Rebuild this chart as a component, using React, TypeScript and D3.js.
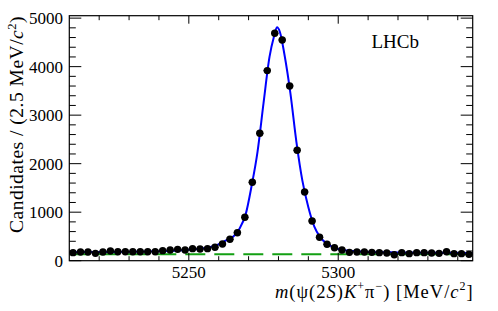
import * as d3 from 'd3'

// bin centres (2.5 MeV bins from 5210 to 5345) and candidates per bin
const binLow = 5210
const binWidth = 2.5
const counts = [
  166, 179, 179, 152, 179, 200, 186, 186, 186, 186,
  186, 186, 207, 220, 234, 220, 248, 241, 248, 276,
  344, 441, 577, 895, 1616, 2627, 3918, 4689, 4550, 3602,
  2276, 1416, 818, 482, 338, 268, 220, 172, 179, 179,
  172, 166, 159, 124, 166, 145, 166, 166, 159, 152,
  186, 145, 145, 131,
]

// total fit (blue), [mass, value]
const fitCurve: [number, number][] = [
  [5210, 176], [5220, 179], [5230, 185], [5240, 196], [5245, 206],
  [5250, 225], [5255, 258], [5258, 296], [5261, 365], [5263, 440],
  [5265, 505], [5267, 665], [5269, 950], [5271, 1540], [5273, 2250],
  [5275, 3250], [5277, 4200], [5278.5, 4620], [5279.5, 4810], [5280.5, 4710],
  [5282, 4250], [5284, 3450], [5286, 2450], [5288, 1650], [5290, 1100],
  [5292, 700], [5294, 480], [5296, 360], [5298, 290], [5300, 240],
  [5305, 198], [5310, 180], [5320, 170], [5345, 160],
]

// combinatorial background (green dashed)
const bkgLevel = 132

const xMajor = [5250, 5300]
const xMinor = d3.range(5220, 5345, 10)
const yMajor = [0, 1000, 2000, 3000, 4000, 5000]
const yMinor = d3.range(0, 5050, 200)

const W = 498
const H = 311
const L = 69.3
const R = 472.7
const T = 15.7
const B = 260.7
const font = "'Liberation Serif', 'Times New Roman', 'DejaVu Serif', serif"

export default function App() {
  const x = d3.scaleLinear([5210, 5345], [L, R])
  const y = d3.scaleLinear([0, 5050], [B, T])

  const line = d3.line<[number, number]>()
    .x(d => x(d[0]))
    .y(d => y(d[1]))
    .curve(d3.curveMonotoneX)

  const pts = counts.map((c, i) => ({ m: binLow + (i + 0.5) * binWidth, c }))

  return (
    <svg width={W} height={H} style={{ position: 'absolute', left: 0, top: 0, display: 'block', fontFamily: font }}>
      <rect width={W} height={H} fill="white" />

      {/* background */}
      <line x1={L} x2={R} y1={y(bkgLevel)} y2={y(bkgLevel)} stroke="#13a013"
        strokeWidth={2} strokeDasharray="20 9" />

      {/* fit */}
      <path d={line(fitCurve) || ''} fill="none" stroke="#0000ff" strokeWidth={2} />

      {/* data */}
      <g>
        {pts.map((p, i) => {
          const e = Math.sqrt(p.c)
          return (
            <g key={i}>
              <line x1={x(p.m - binWidth / 2)} x2={x(p.m + binWidth / 2)} y1={y(p.c)} y2={y(p.c)}
                stroke="black" strokeWidth={1} />
              <line x1={x(p.m)} x2={x(p.m)} y1={y(p.c - e)} y2={y(p.c + e)} stroke="black" strokeWidth={1} />
              <circle cx={x(p.m)} cy={y(p.c)} r={3.7} fill="black" />
            </g>
          )
        })}
      </g>

      {/* frame and ticks */}
      <rect x={L} y={T} width={R - L} height={B - T} fill="none" stroke="black" strokeWidth={1.2} />
      {xMinor.map(v => {
        const major = xMajor.includes(v)
        const len = major ? 8 : 4.5
        return (
          <g key={'x' + v}>
            <line x1={x(v)} x2={x(v)} y1={B} y2={B - len} stroke="black" />
            <line x1={x(v)} x2={x(v)} y1={T} y2={T + len} stroke="black" />
          </g>
        )
      })}
      {yMinor.map(v => {
        const major = yMajor.includes(v)
        const len = major ? 12 : 6.5
        return (
          <g key={'y' + v}>
            <line x1={L} x2={L + len} y1={y(v)} y2={y(v)} stroke="black" />
            <line x1={R} x2={R - len} y1={y(v)} y2={y(v)} stroke="black" />
          </g>
        )
      })}

      {xMajor.map(v => (
        <text key={'xl' + v} x={x(v)} y={277.5} fontSize={17} textAnchor="middle">{v}</text>
      ))}
      {yMajor.map(v => (
        <text key={'yl' + v} x={63} y={y(v) + 6} fontSize={17} textAnchor="end">{v}</text>
      ))}

      {/* axis titles */}
      <text x={R + 1} y={297.5} fontSize={18.5} textAnchor="end" letterSpacing={1}>
        <tspan fontStyle="italic">m</tspan>
        <tspan>(ψ(2</tspan>
        <tspan fontStyle="italic">S</tspan>
        <tspan>)</tspan>
        <tspan fontStyle="italic">K</tspan>
        <tspan fontSize={12} dy={-7.5}>+</tspan>
        <tspan dy={7.5}>π</tspan>
        <tspan fontSize={12} dy={-7.5}>−</tspan>
        <tspan dy={7.5}>) [MeV/</tspan>
        <tspan fontStyle="italic">c</tspan>
        <tspan fontSize={12} dy={-7.5}>2</tspan>
        <tspan dy={7.5}>]</tspan>
      </text>
      <text transform="translate(23,16) rotate(-90)" fontSize={19.5} textAnchor="end" letterSpacing={0.5}>
        <tspan>Candidates / (2.5 MeV/</tspan>
        <tspan fontStyle="italic">c</tspan>
        <tspan fontSize={12.5} dy={-7.5}>2</tspan>
        <tspan dy={7.5}>)</tspan>
      </text>

      <text x={371.5} y={48} fontSize={19}>LHCb</text>
    </svg>
  )
}
